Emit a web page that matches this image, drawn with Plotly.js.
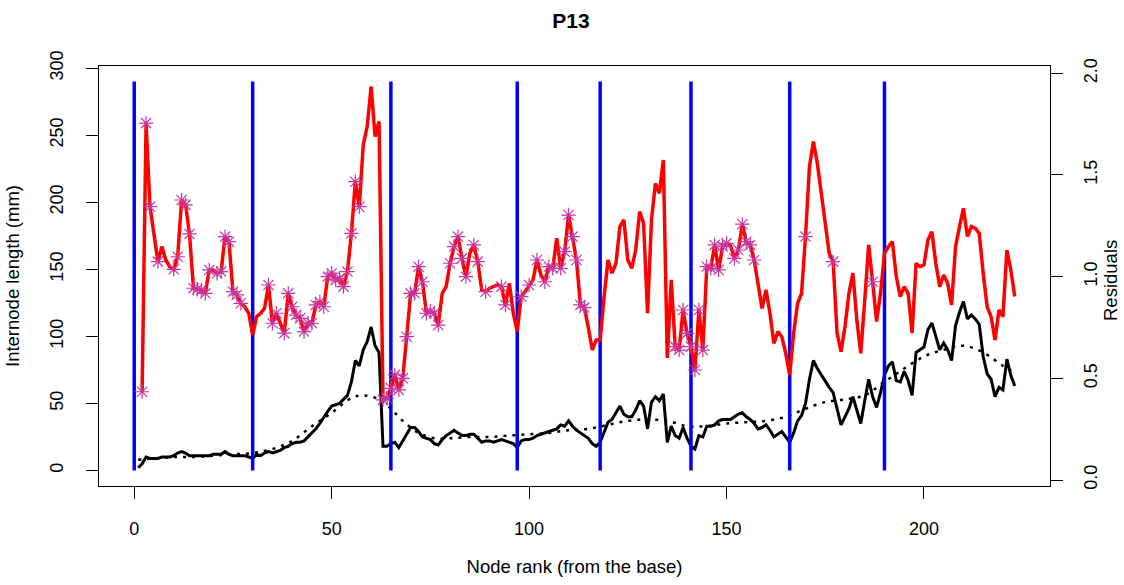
<!DOCTYPE html>
<html>
<head>
<meta charset="utf-8">
<script src="https://cdn.plot.ly/plotly-3.0.1.min.js"></script>
<style>html,body{margin:0;padding:0;background:#fff;}#chart{width:1124px;height:585px;}</style>
</head>
<body>
<div id="chart"></div>
<script>
// ---- data ----
const chartTitle = "P13";
const xTitle = "Node rank (from the base)";
const yTitle = "Internode length (mm)";
const y2Title = "Residuals";

// internode length (mm), nodes 1..223
const lengthStart = 1;
const internodeLength = [
 2,5,10,9,9,9,10,10,10,11,13,14,13,11,11,11,11,11,11,12,
 12,12,14,12,11,11,11,11,10,9,12,11,13,14,13,14,15,17,18,20,
 21,21,22,25,28,31,35,40,44,48,49,50,53,56,66,82,78,90,96,107,
 93,88,18,18,20,21,17,22,27,32,32,29,25,24,23,20,19,23,26,28,
 30,28,26,26,27,27,24,21,22,22,21,22,23,22,21,20,17,22,23,23,
 24,26,27,28,29,30,31,34,33,37,33,30,28,26,24,20,18,21,28,36,
 38,43,48,42,40,40,45,52,48,31,51,55,52,57,21,33,26,24,32,24,
 18,16,26,25,33,33,34,37,38,38,38,40,42,43,40,38,35,31,32,34,
 30,25,27,29,25,21,28,37,41,50,68,82,76,71,66,62,58,45,34,40,
 46,55,45,35,52,68,55,47,58,71,78,81,67,66,74,67,56,88,90,92,
 105,110,100,90,95,90,82,108,118,126,113,116,113,109,85,72,68,55,62,60,
 83,71,63
];

// smoothed trend (dotted), sampled nodes
const trendNodes = [1,5,10,15,20,25,30,35,40,45,50,55,58,62,65,68,72,76,80,85,90,95,100,105,110,115,120,125,130,135,140,145,150,155,160,165,170,175,180,185,190,195,200,205,210,215,220,223];
const trendLength = [8,9,10,10,11,12,13,16,22,33,43,54,56,53,46,37,28,24,24,25,25,26,27,28,30,31,34,37,38,37,33,33,35,36,37,40,46,51,53,56,66,76,85,90,93,88,78,73];

// residuals (right axis), nodes 2..223
const residualStart = 2;
const residuals = [
 0.434,1.755,1.344,1.197,1.074,1.148,1.082,1.049,1.036,1.098,
 1.377,1.353,1.210,0.943,0.938,0.935,0.918,1.033,1.033,1.017,
 1.025,1.197,1.172,0.926,0.910,0.869,0.852,0.820,0.713,0.803,
 0.820,0.844,0.959,0.771,0.820,0.771,0.722,0.918,0.852,0.811,
 0.795,0.730,0.771,0.771,0.861,0.877,0.852,1.000,1.017,0.984,
 0.992,0.951,1.025,1.213,1.467,1.344,1.648,1.738,1.935,1.689,
 1.763,0.394,0.402,0.451,0.517,0.443,0.500,0.705,0.918,0.918,
 1.049,0.975,0.820,0.830,0.820,0.762,0.918,0.951,1.066,1.148,
 1.197,1.090,1.000,1.115,1.156,1.074,0.935,0.926,0.943,0.951,
 0.959,0.951,0.861,0.967,0.820,0.730,0.902,0.926,0.959,0.984,
 1.082,1.008,0.975,1.049,1.041,1.189,1.041,1.123,1.303,1.197,
 1.082,0.861,0.848,0.750,0.639,0.689,0.689,0.902,1.082,1.017,
 1.066,1.246,1.279,1.082,1.041,1.131,1.320,1.262,0.820,1.279,
 1.459,1.410,1.574,0.600,0.984,0.656,0.639,0.836,0.721,0.656,
 0.541,0.836,0.639,1.049,1.041,1.156,1.033,1.148,1.164,1.156,
 1.090,1.131,1.258,1.172,1.156,1.082,0.951,0.844,0.935,0.820,
 0.672,0.730,0.705,0.623,0.517,0.722,0.869,0.918,1.197,1.541,
 1.664,1.557,1.410,1.246,1.115,1.074,0.722,0.631,0.754,0.918,
 1.017,0.787,0.623,0.885,1.156,0.975,0.779,0.918,1.115,1.148,
 1.172,1.000,0.902,0.951,0.918,0.722,1.066,1.049,1.058,1.180,
 1.221,1.066,0.951,1.008,0.967,0.861,1.148,1.246,1.336,1.197,
 1.246,1.238,1.213,1.017,0.852,0.803,0.689,0.836,0.803,1.131,
 1.033,0.902
];

// nodes flagged with an asterisk
const flaggedNodes = [2,3,4,6,10,11,12,13,14,15,16,17,18,19,21,22,23,24,25,26,27,34,35,36,38,39,40,41,42,43,44,45,46,47,48,49,50,51,52,53,54,55,56,57,63,64,65,66,67,68,69,70,71,72,73,74,75,76,77,80,81,82,83,84,86,87,89,93,94,98,100,102,104,105,106,108,109,110,111,112,113,114,137,138,139,140,141,142,143,144,145,146,147,148,149,150,152,153,154,155,156,157,170,177,187];

// segment boundaries (blue verticals)
const boundaries = [0,30,65,97,118,141,166,190];
const boundaryTop = 290;

// ---- build traces ----
const lenX = internodeLength.map((_, i) => i + lengthStart);
const resX = residuals.map((_, i) => i + residualStart);
const flagY = flaggedNodes.map(n => residuals[n - residualStart]);

const bx = [], by = [];
boundaries.forEach(b => { bx.push(b, b, null); by.push(0, boundaryTop, null); });

const traces = [
  {x: lenX, y: internodeLength, type: 'scatter', mode: 'lines',
   line: {color: '#000000', width: 3}, yaxis: 'y', hoverinfo: 'skip'},
  {x: trendNodes, y: trendLength, type: 'scatter', mode: 'lines',
   line: {color: '#000000', width: 2.5, dash: '3px,6px', shape: 'spline'}, yaxis: 'y', hoverinfo: 'skip'},
  {x: bx, y: by, type: 'scatter', mode: 'lines',
   line: {color: '#0000FF', width: 3.5}, yaxis: 'y', hoverinfo: 'skip'},
  {x: resX, y: residuals, type: 'scatter', mode: 'lines',
   line: {color: '#FF0000', width: 3.5}, yaxis: 'y2', hoverinfo: 'skip'},
  {x: flaggedNodes, y: flagY, type: 'scatter', mode: 'markers',
   marker: {symbol: 'asterisk-open', size: 12, color: '#C8379E', line: {color: '#C8379E', width: 1.2}},
   yaxis: 'y2', hoverinfo: 'skip'}
];

const fontFam = 'Liberation Sans, Arial, sans-serif';
const axisCommon = {
  showgrid: false, zeroline: false, showline: true, linecolor: '#000', linewidth: 1,
  ticks: 'outside', ticklen: 12, tickwidth: 1, tickcolor: '#000',
  tickfont: {family: fontFam, size: 18, color: '#000'}
};

const layout = {
  width: 1124, height: 585,
  margin: {l: 99, r: 74, t: 66, b: 99, pad: 0},
  paper_bgcolor: '#fff', plot_bgcolor: '#fff',
  showlegend: false,
  font: {family: fontFam, color: '#000'},
  title: {text: '<b>' + chartTitle + '</b>', x: 571/1124, xanchor: 'center', y: 1 - 21/585, yanchor: 'middle',
          font: {family: fontFam, size: 21, color: '#000'}},
  xaxis: Object.assign({}, axisCommon, {
    range: [-8.92, 231.92], tick0: 0, dtick: 50, mirror: true,
    ticklabelstandoff: 14,
    title: {text: xTitle, standoff: 22, font: {family: fontFam, size: 18.5, color: '#000'}}
  }),
  yaxis: Object.assign({}, axisCommon, {
    range: [-11.6, 301.6], tick0: 0, dtick: 50, tickangle: -90, mirror: true,
    ticklabelstandoff: 16,
    title: {text: yTitle, standoff: 22, font: {family: fontFam, size: 18.5, color: '#000'}}
  }),
  yaxis2: Object.assign({}, axisCommon, {
    overlaying: 'y', side: 'right', range: [-0.0295, 2.036], tick0: 0, dtick: 0.5,
    tickformat: '.1f', tickangle: -90, ticklabelstandoff: 12
  }),
  annotations: [{
    text: y2Title, xref: 'paper', yref: 'paper', x: (1110 - 99) / 951, y: (486 - 281) / 420,
    xanchor: 'center', yanchor: 'middle', textangle: -90, showarrow: false,
    font: {family: fontFam, size: 18.5, color: '#000'}
  }]
};

Plotly.newPlot('chart', traces, layout, {displayModeBar: false, staticPlot: true});
</script>
</body>
</html>
